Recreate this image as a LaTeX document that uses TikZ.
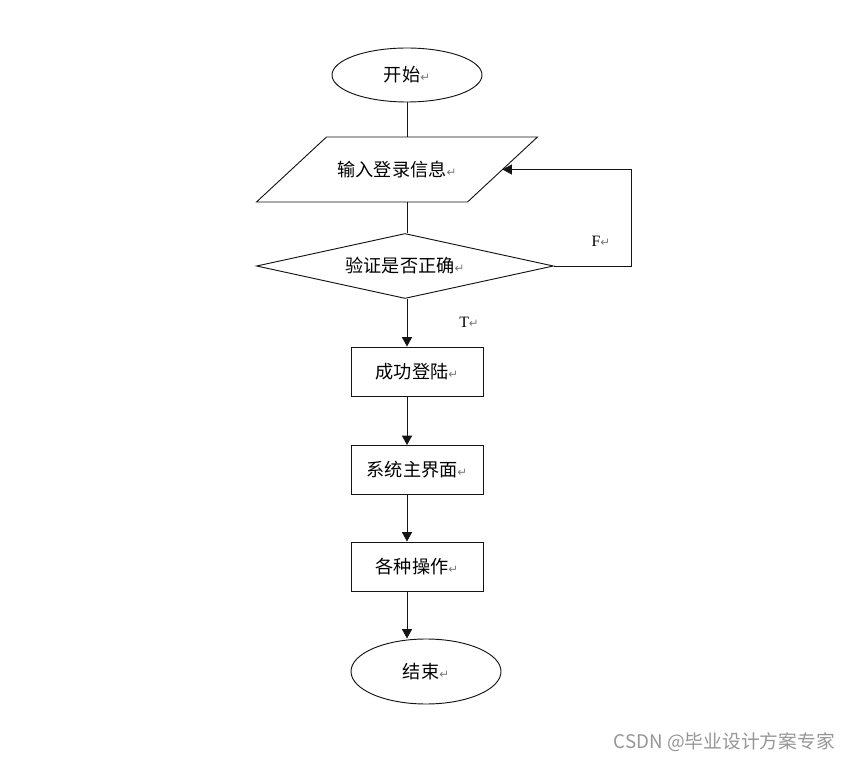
\documentclass[tikz,border=0pt]{standalone}
\usepackage{fontspec}
\setmainfont{Noto Sans CJK SC}
\newfontfamily\serifrm{Liberation Serif}
\newfontfamily\symfont{DejaVu Sans}
\usetikzlibrary{shapes.geometric, arrows.meta, positioning, calc}
\definecolor{lineblack}{RGB}{20, 20, 20}
\definecolor{retgray}{RGB}{120, 120, 120}
\definecolor{wmgray}{RGB}{150, 150, 150}
\newcommand{\ret}{{\symfont\color{retgray}\fontsize{10}{11}\selectfont\char"21B5}}

\begin{document}
\begin{tikzpicture}[
    x=0.03cm, y=-0.03cm,
    font=\fontsize{15.5}{18}\selectfont,
    terminal/.style={draw=lineblack, ellipse, line width=0.8pt, minimum width=4.5cm, inner sep=0pt},
    io/.style={inner sep=0pt},
    decision/.style={draw=lineblack, diamond, aspect=4.57, minimum width=8.91cm, minimum height=1.95cm, line width=0.8pt, inner sep=0pt},
    process/.style={draw=lineblack, rectangle, minimum width=3.96cm, minimum height=1.47cm, line width=0.8pt},
    arr/.style={-{Triangle[length=2.8mm, width=3mm]}, line width=0.8pt, lineblack},
    ln/.style={line width=0.8pt, lineblack},
    tf/.style={font=\serifrm\fontsize{13.5}{15}\selectfont},
]
\useasboundingbox (0,0) rectangle (855,762);

% --- main column ---
\node[terminal, minimum height=1.62cm] (start) at (407,75) {开始\ret};
\node[io] (input) at (397,169.5) {输入登录信息\ret};
\draw[ln] ($(input)+(-140.5,32.5)$) -- ($(input)+(70.5,32.5)$)
    -- ($(input)+(140.5,-32.5)$) -- ($(input)+(-70.5,-32.5)$) -- cycle;
\node[decision] (check) at (405,266) {验证是否正确\ret};
\node[process] (login) at (417,371.5) {成功登陆\ret};
\node[process] (mainui) at (417,470) {系统主界面\ret};
\node[process] (ops) at (417,566.5) {各种操作\ret};
\node[terminal, minimum height=1.95cm] (stop) at (426,671.5) {结束\ret};

% --- flow lines ---
\coordinate (spine) at (407,0);
\coordinate (intop) at ($(input)+(0,-32.5)$);
\coordinate (inbot) at ($(input)+(0,32.5)$);
\draw[ln] (start.south) -- (spine |- intop);
\draw[ln] (spine |- inbot) -- (spine |- check.north);
\draw[arr] (spine |- check.south) -- (spine |- login.north);
\draw[arr] (spine |- login.south) -- (spine |- mainui.north);
\draw[arr] (spine |- mainui.south) -- (spine |- ops.north);
\draw[arr] (spine |- ops.south) -- (spine |- stop.north);

% --- retry loop ---
\coordinate (loopcorner) at (631,266);
\coordinate (inedge) at ($(input)+(105.5,0)$);
\draw[arr] (check.east) -- (loopcorner) |- (inedge);

% --- branch labels ---
\node[tf] (flabel) at (601,241) {F\ret};
\node[tf] (tlabel) at (469,322) {T\ret};

% --- watermark ---
\node[wmgray, anchor=east, font=\fontsize{16}{18}\selectfont] (mark) at (839,742) {CSDN @毕业设计方案专家};
\end{tikzpicture}
\end{document}
